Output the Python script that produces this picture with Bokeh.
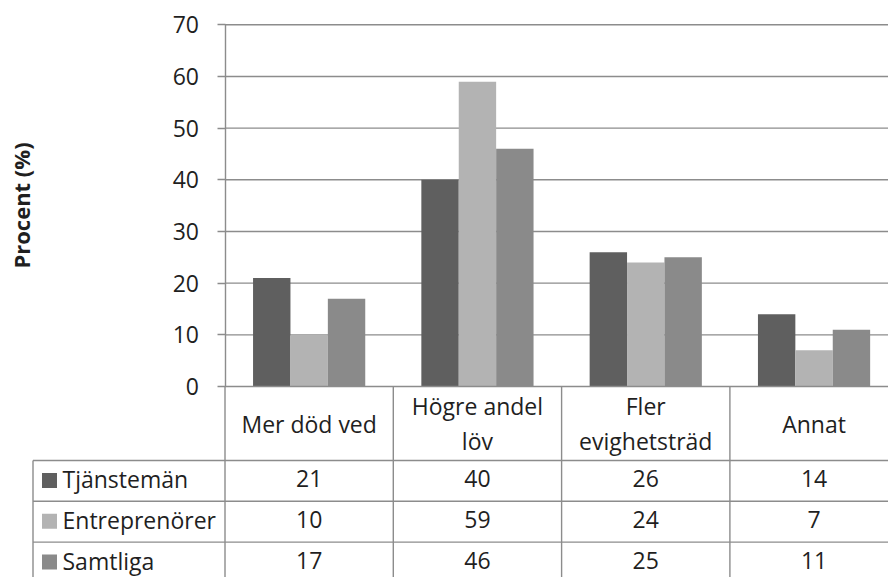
import numpy as np
from bokeh.plotting import figure
from bokeh.models import Range1d, FixedTicker
from bokeh.embed import file_html
from bokeh.resources import INLINE
from bokeh.core.properties import value

# ---------------- data ----------------
categories = ["Mer död ved", "Högre andel\nlöv", "Fler\nevighetsträd", "Annat"]
series_names = ["Tjänstemän", "Entreprenörer", "Samtliga"]
tjanstemaen = [21, 40, 26, 14]
entreprenoerer = [10, 59, 24, 7]
samtliga = [17, 46, 25, 11]
y_ticks = [0, 10, 20, 30, 40, 50, 60, 70]
y_title = "Procent (%)"
colors = ["#5f5f5f", "#b3b3b3", "#8a8a8a"]

series_values = [tjanstemaen, entreprenoerer, samtliga]

# ---------------- layout / style ----------------
FONT = "Open Sans"
FS = "23px"
TXT = "#1f1f1f"
GRID = "#8c8c8c"
LW = 1.4
W, H = 888, 577
PX = 168.3      # pixels per category
AX = 224.5      # canvas x of the first category boundary (value axis)


def px2x(px):
    return (px - AX) / PX


Y0_PX, Y70_PX = 386.0, 24.3
k = (Y0_PX - Y70_PX) / 70.0
y_start = -(H - Y0_PX) / k
y_end = 70 + Y70_PX / k
x_lo, x_hi = px2x(0), px2x(W)

ncat = len(categories)
nser = len(series_names)

p = figure(width=W, height=H,
           x_range=Range1d(x_lo, x_hi), y_range=Range1d(y_start, y_end),
           output_backend="svg", toolbar_location=None,
           x_axis_location=None, min_border=0,
           outline_line_color=None, background_fill_color="white",
           border_fill_color="white")
# table coordinates: pixels from the top of the canvas
p.extra_y_ranges = {"tbl": Range1d(H, 0)}
p.grid.visible = False

# ---------------- value axis ----------------
yax = p.yaxis[0]
yax.fixed_location = 0
yax.ticker = FixedTicker(ticks=y_ticks)
yax.bounds = (0, 70)
yax.major_tick_out = 8
yax.major_tick_in = 0
yax.minor_tick_line_color = None
yax.major_tick_line_color = GRID
yax.major_tick_line_width = LW
yax.axis_line_color = GRID
yax.axis_line_width = LW
yax.major_label_text_font = FONT
yax.major_label_text_font_size = FS
yax.major_label_text_color = TXT
yax.major_label_standoff = 18
yax.axis_label = y_title
yax.axis_label_text_font = FONT
yax.axis_label_text_font_style = "bold"
yax.axis_label_text_font_size = "22px"
yax.axis_label_text_color = TXT
yax.axis_label_standoff = 134

# horizontal gridlines (only over the plot area, right of the axis)
gl = y_ticks[1:]
p.segment(x0=[0] * len(gl), y0=gl, x1=[x_hi + 1] * len(gl), y1=gl,
          line_color=GRID, line_width=LW)

# ---------------- bars ----------------
bw = 2.0 / 3.0 / nser
for j, (vals, c) in enumerate(zip(series_values, colors)):
    xs = [i + 0.5 + (j - 1) * bw for i in range(ncat)]
    p.vbar(x=xs, top=vals, bottom=0, width=bw, fill_color=c, line_color=None)

# category axis line
p.segment(x0=[0], y0=[0], x1=[x_hi + 1], y1=[0], line_color=GRID, line_width=LW)

# ---------------- data table ----------------
HDR_TOP = Y0_PX
HDR_BOT = 460.0
RH = 40.8
LEFT_PX = 32.5
row_lines = [HDR_BOT + RH * r for r in range(nser + 1)]
row_centers = [HDR_BOT + RH * (r + 0.5) - 2 for r in range(nser)]

p.segment(x0=list(range(ncat + 1)), y0=[HDR_TOP] * (ncat + 1),
          x1=list(range(ncat + 1)), y1=[H + 20] * (ncat + 1),
          line_color=GRID, line_width=LW, y_range_name="tbl")
p.segment(x0=[px2x(LEFT_PX)], y0=[HDR_BOT], x1=[px2x(LEFT_PX)], y1=[H + 20],
          line_color=GRID, line_width=LW, y_range_name="tbl")
p.segment(x0=[px2x(LEFT_PX)] * len(row_lines), y0=row_lines,
          x1=[x_hi + 1] * len(row_lines), y1=row_lines,
          line_color=GRID, line_width=LW, y_range_name="tbl")

# header
p.text(x=[i + 0.5 for i in range(ncat)], y=[(HDR_TOP + HDR_BOT) / 2] * ncat,
       text=categories, text_font=value(FONT), text_font_size=FS,
       text_color=TXT, text_align="center", text_baseline="middle",
       text_line_height=1.09, y_range_name="tbl")

# legend keys + names
p.scatter(x=[px2x(49)] * nser, y=[c + 1.5 for c in row_centers], marker="square",
          size=15, fill_color=colors, line_color=None, y_range_name="tbl")
p.text(x=[px2x(62)] * nser, y=row_centers, text=series_names,
       text_font=value(FONT), text_font_size=FS, text_color=TXT,
       text_align="left", text_baseline="middle", y_range_name="tbl")

# values
for r, vals in enumerate(series_values):
    p.text(x=[i + 0.5 for i in range(ncat)], y=[row_centers[r]] * ncat,
           text=[str(v) for v in vals], text_font=value(FONT),
           text_font_size=FS, text_color=TXT, text_align="center",
           text_baseline="middle", y_range_name="tbl")

open("out.html", "w").write(file_html(p, INLINE))
